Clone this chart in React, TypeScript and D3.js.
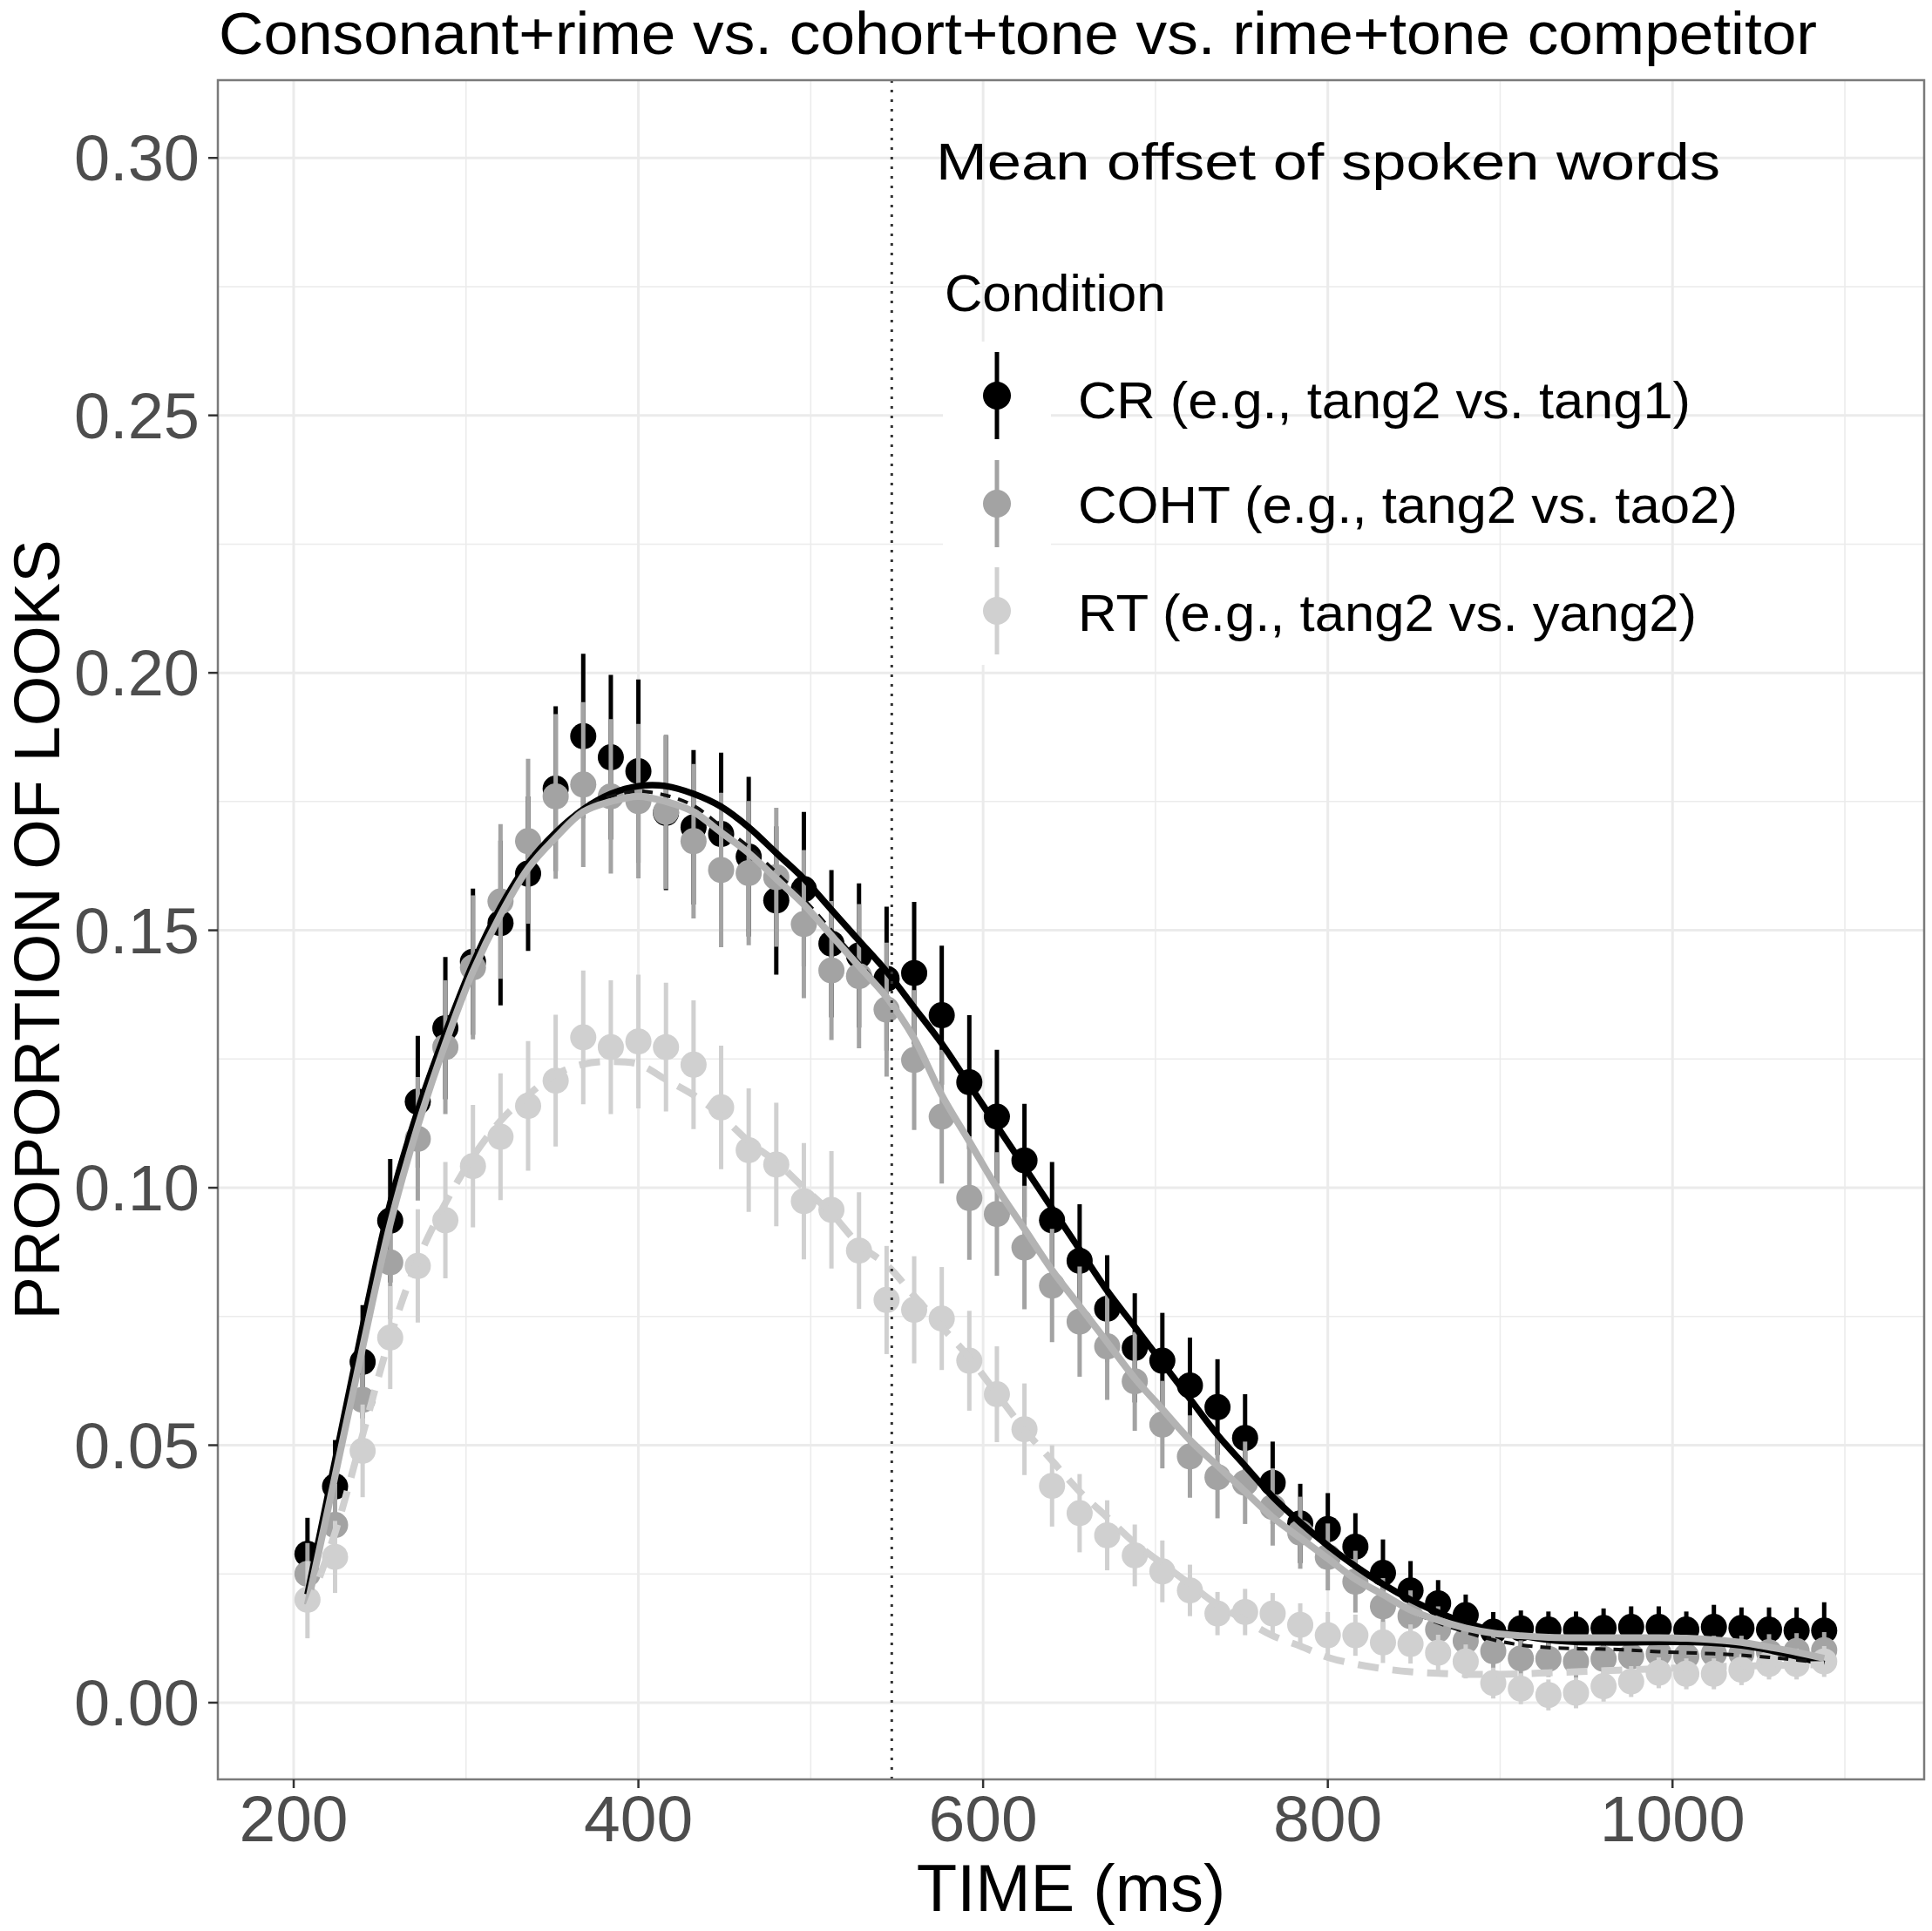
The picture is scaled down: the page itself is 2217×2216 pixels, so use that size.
import React from 'react';
import * as d3 from 'd3';

const TIME = [208,224,240,256,272,288,304,320,336,352,368,384,400,416,432,448,464,480,496,512,528,544,560,576,592,608,624,640,656,672,688,704,720,736,752,768,784,800,816,832,848,864,880,896,912,928,944,960,976,992,1008,1024,1040,1056,1072,1088];

const CR_MEAN = [0.0289,0.0420,0.0662,0.0936,0.1167,0.1310,0.1439,0.1514,0.1610,0.1775,0.1877,0.1836,0.1809,0.1728,0.1700,0.1687,0.1643,0.1558,0.1580,0.1474,0.1451,0.1406,0.1417,0.1335,0.1205,0.1138,0.1053,0.0937,0.0858,0.0765,0.0689,0.0664,0.0616,0.0574,0.0514,0.0427,0.0348,0.0337,0.0303,0.0252,0.0218,0.0193,0.0170,0.0138,0.0144,0.0142,0.0142,0.0145,0.0147,0.0147,0.0142,0.0147,0.0145,0.0142,0.0140,0.0140];
const CR_SE = [0.0070,0.0090,0.0110,0.0120,0.0128,0.0138,0.0142,0.0160,0.0150,0.0160,0.0160,0.0160,0.0178,0.0150,0.0150,0.0158,0.0155,0.0144,0.0150,0.0143,0.0140,0.0140,0.0138,0.0135,0.0130,0.0130,0.0110,0.0113,0.0110,0.0104,0.0106,0.0093,0.0093,0.0093,0.0085,0.0080,0.0077,0.0070,0.0065,0.0065,0.0057,0.0045,0.0040,0.0038,0.0035,0.0035,0.0035,0.0038,0.0040,0.0040,0.0035,0.0043,0.0040,0.0043,0.0045,0.0055];

const COHT_MEAN = [0.0250,0.0345,0.0588,0.0855,0.1095,0.1273,0.1428,0.1556,0.1673,0.1760,0.1783,0.1760,0.1751,0.1730,0.1673,0.1617,0.1611,0.1603,0.1512,0.1422,0.1411,0.1346,0.1248,0.1138,0.0980,0.0949,0.0884,0.0810,0.0740,0.0692,0.0624,0.0540,0.0478,0.0438,0.0427,0.0380,0.0330,0.0283,0.0235,0.0187,0.0168,0.0142,0.0120,0.0100,0.0086,0.0085,0.0080,0.0085,0.0090,0.0095,0.0090,0.0095,0.0095,0.0098,0.0100,0.0102];
const COHT_SE = [0.0060,0.0080,0.0100,0.0110,0.0120,0.0130,0.0140,0.0150,0.0160,0.0160,0.0160,0.0150,0.0150,0.0150,0.0150,0.0150,0.0140,0.0135,0.0144,0.0135,0.0140,0.0130,0.0136,0.0130,0.0120,0.0120,0.0120,0.0110,0.0107,0.0104,0.0096,0.0085,0.0080,0.0080,0.0080,0.0075,0.0070,0.0065,0.0060,0.0055,0.0050,0.0045,0.0040,0.0035,0.0035,0.0035,0.0035,0.0035,0.0035,0.0035,0.0035,0.0035,0.0035,0.0035,0.0035,0.0035];

const RT_MEAN = [0.0200,0.0283,0.0489,0.0709,0.0848,0.0937,0.1042,0.1099,0.1159,0.1208,0.1292,0.1273,0.1284,0.1273,0.1239,0.1156,0.1073,0.1045,0.0974,0.0957,0.0878,0.0782,0.0763,0.0746,0.0664,0.0599,0.0531,0.0421,0.0368,0.0325,0.0286,0.0255,0.0218,0.0173,0.0176,0.0173,0.0151,0.0131,0.0131,0.0117,0.0114,0.0097,0.0080,0.0038,0.0027,0.0015,0.0019,0.0032,0.0041,0.0058,0.0056,0.0056,0.0064,0.0075,0.0075,0.0080];
const RT_SE = [0.0075,0.0070,0.0090,0.0100,0.0110,0.0113,0.0119,0.0123,0.0126,0.0128,0.0130,0.0130,0.0130,0.0125,0.0125,0.0120,0.0120,0.0120,0.0113,0.0114,0.0113,0.0105,0.0104,0.0100,0.0097,0.0093,0.0089,0.0079,0.0076,0.0068,0.0060,0.0060,0.0050,0.0042,0.0045,0.0040,0.0042,0.0045,0.0040,0.0040,0.0038,0.0035,0.0033,0.0030,0.0030,0.0030,0.0030,0.0030,0.0030,0.0030,0.0030,0.0030,0.0030,0.0030,0.0030,0.0030];

const FIT_CR = [0.0210,0.0470,0.0730,0.0970,0.1150,0.1300,0.1435,0.1545,0.1630,0.1690,0.1735,0.1765,0.1780,0.1780,0.1765,0.1740,0.1700,0.1650,0.1600,0.1540,0.1480,0.1420,0.1350,0.1280,0.1200,0.1120,0.1040,0.0960,0.0880,0.0800,0.0730,0.0660,0.0590,0.0520,0.0460,0.0400,0.0350,0.0305,0.0265,0.0230,0.0200,0.0175,0.0155,0.0140,0.0130,0.0122,0.0118,0.0117,0.0117,0.0118,0.0118,0.0116,0.0111,0.0102,0.0090,0.0075];
const FIT_COHT = [0.0190,0.0440,0.0690,0.0930,0.1120,0.1280,0.1420,0.1530,0.1620,0.1680,0.1730,0.1750,0.1760,0.1750,0.1730,0.1690,0.1650,0.1600,0.1550,0.1490,0.1430,0.1370,0.1290,0.1180,0.1090,0.1000,0.0920,0.0840,0.0770,0.0700,0.0630,0.0570,0.0510,0.0460,0.0410,0.0360,0.0320,0.0280,0.0240,0.0210,0.0180,0.0160,0.0145,0.0135,0.0130,0.0127,0.0126,0.0126,0.0126,0.0126,0.0125,0.0122,0.0117,0.0108,0.0098,0.0086];
const FIT_DASHED = [0.0195,0.0445,0.0695,0.0935,0.1125,0.1285,0.1425,0.1535,0.1625,0.1688,0.1738,0.1760,0.1770,0.1762,0.1742,0.1702,0.1662,0.1612,0.1560,0.1500,0.1438,0.1372,0.1290,0.1180,0.1090,0.1000,0.0920,0.0840,0.0770,0.0700,0.0630,0.0570,0.0510,0.0460,0.0410,0.0360,0.0320,0.0280,0.0240,0.0208,0.0178,0.0155,0.0137,0.0122,0.0112,0.0107,0.0105,0.0104,0.0102,0.0099,0.0097,0.0095,0.0092,0.0088,0.0083,0.0077];
const FIT_RT = [0.0180,0.0330,0.0520,0.0710,0.0860,0.0970,0.1060,0.1130,0.1180,0.1220,0.1240,0.1245,0.1240,0.1210,0.1180,0.1140,0.1090,0.1050,0.1000,0.0950,0.0890,0.0850,0.0790,0.0730,0.0670,0.0600,0.0530,0.0470,0.0410,0.0360,0.0310,0.0270,0.0230,0.0190,0.0160,0.0130,0.0110,0.0088,0.0075,0.0066,0.0060,0.0057,0.0055,0.0055,0.0056,0.0058,0.0060,0.0062,0.0064,0.0066,0.0068,0.0070,0.0071,0.0072,0.0073,0.0074];

const X_TICKS = [200, 400, 600, 800, 1000];
const X_MINOR = [300, 500, 700, 900, 1100];
const Y_TICKS = [0, 0.05, 0.1, 0.15, 0.2, 0.25, 0.3];
const Y_MINOR = [0.025, 0.075, 0.125, 0.175, 0.225, 0.275];
const OFFSET_MS = 547;

const TITLE = 'Consonant+rime vs. cohort+tone vs. rime+tone competitor';
const X_TITLE = 'TIME (ms)';
const Y_TITLE = 'PROPORTION OF LOOKS';
const ANNOT = 'Mean offset of spoken words';
const LEGEND_TITLE = 'Condition';
const CONDITIONS = ['CR (e.g., tang2 vs. tang1)', 'COHT (e.g., tang2 vs. tao2)', 'RT (e.g., tang2 vs. yang2)'];
const COLORS = ['#000000', '#a3a3a3', '#d0d0d0'];

const W = 2217;
const H = 2216;
const PL = 250, PR = 2208, PT = 92, PB = 2042;
const FONT = '"Liberation Sans", Arial, Helvetica, sans-serif';

export default function App() {
  const x = d3.scaleLinear().domain([156, 1146]).range([PL, PR]);
  const y = d3.scaleLinear().domain([-0.0149, 0.3151]).range([PB, PT]);

  const series = [
    { mean: CR_MEAN, se: CR_SE, color: COLORS[0] },
    { mean: COHT_MEAN, se: COHT_SE, color: COLORS[1] },
    { mean: RT_MEAN, se: RT_SE, color: COLORS[2] },
  ];

  const line = (vals: number[]) =>
    d3.line<number>().x((_, i) => x(TIME[i])).y((v) => y(v)).curve(d3.curveCatmullRom.alpha(0.5))(vals) || '';

  const legendTextLen = [703, 757, 710];
  const legendBase = [480, 600, 724];
  const legendKeyY = [454, 578, 701];

  return (
    <svg width={W} height={H} style={{ position: 'absolute', left: 0, top: 0, background: '#fff' }} fontFamily={FONT}>
      <rect x={0} y={0} width={W} height={H} fill="#ffffff" />
      <defs>
        <clipPath id="panel">
          <rect x={PL} y={PT} width={PR - PL} height={PB - PT} />
        </clipPath>
      </defs>
      {X_MINOR.map((t) => (
        <line key={'xm' + t} x1={x(t)} x2={x(t)} y1={PT} y2={PB} stroke="#ebebeb" strokeWidth={1.5} />
      ))}
      {Y_MINOR.map((v) => (
        <line key={'ym' + v} x1={PL} x2={PR} y1={y(v)} y2={y(v)} stroke="#ebebeb" strokeWidth={1.5} />
      ))}
      {X_TICKS.map((t) => (
        <line key={'xg' + t} x1={x(t)} x2={x(t)} y1={PT} y2={PB} stroke="#ebebeb" strokeWidth={3} />
      ))}
      {Y_TICKS.map((v) => (
        <line key={'yg' + v} x1={PL} x2={PR} y1={y(v)} y2={y(v)} stroke="#ebebeb" strokeWidth={3} />
      ))}

      {legendKeyY.map((ky, i) => (
        <rect key={'lk' + i} x={1082} y={ky - 62} width={124} height={124} fill="#ffffff" />
      ))}

      <g clipPath="url(#panel)">
        {series.map((s, si) => (
          <g key={'s' + si}>
            {s.mean.map((m, i) => (
              <g key={i}>
                <line x1={x(TIME[i])} x2={x(TIME[i])} y1={y(m - s.se[i])} y2={y(m + s.se[i])} stroke={s.color} strokeWidth={5} />
                <circle cx={x(TIME[i])} cy={y(m)} r={15} fill={s.color} />
              </g>
            ))}
          </g>
        ))}
        <path d={line(FIT_CR)} fill="none" stroke="#000000" strokeWidth={7.5} />
        <path d={line(FIT_DASHED)} fill="none" stroke="#111111" strokeWidth={4} strokeDasharray="12 9" />
        <path d={line(FIT_COHT)} fill="none" stroke="#b3b3b3" strokeWidth={8} />
        <path d={line(FIT_RT)} fill="none" stroke="#d0d0d0" strokeWidth={8} strokeDasharray="24 16" />
        <line x1={x(OFFSET_MS)} x2={x(OFFSET_MS)} y1={PT} y2={PB} stroke="#333333" strokeWidth={3} strokeDasharray="3 8" />
      </g>

      <rect x={PL} y={PT} width={PR - PL} height={PB - PT} fill="none" stroke="#7a7a7a" strokeWidth={2.5} />

      {X_TICKS.map((t) => (
        <g key={'xt' + t}>
          <line x1={x(t)} x2={x(t)} y1={PB} y2={PB + 10} stroke="#333333" strokeWidth={2.5} />
          <text x={x(t)} y={2113} fontSize={75} fill="#4d4d4d" textAnchor="middle">{t}</text>
        </g>
      ))}
      {Y_TICKS.map((v) => (
        <g key={'yt' + v}>
          <line x1={PL - 11} x2={PL} y1={y(v)} y2={y(v)} stroke="#333333" strokeWidth={2.5} />
          <text x={229} y={y(v) + 26} fontSize={74} fill="#4d4d4d" textAnchor="end">{v.toFixed(2)}</text>
        </g>
      ))}

      <text x={251} y={62} fontSize={68} fill="#000" textLength={1834} lengthAdjust="spacingAndGlyphs">{TITLE}</text>
      <text x={(PL + PR) / 2} y={2193} fontSize={76} fill="#000" textAnchor="middle">{X_TITLE}</text>
      <text transform={`translate(68, ${(PT + PB) / 2}) rotate(-90)`} fontSize={74} fill="#000" textAnchor="middle">{Y_TITLE}</text>

      <text x={1074} y={206} fontSize={60} fill="#000" textLength={900} lengthAdjust="spacingAndGlyphs">{ANNOT}</text>
      <text x={1084} y={357} fontSize={60} fill="#000">{LEGEND_TITLE}</text>
      {CONDITIONS.map((c, i) => (
        <g key={'lg' + i}>
          <line x1={1144} x2={1144} y1={legendKeyY[i] - 50} y2={legendKeyY[i] + 50} stroke={COLORS[i]} strokeWidth={5} />
          <circle cx={1144} cy={legendKeyY[i]} r={16} fill={COLORS[i]} />
          <text x={1237} y={legendBase[i]} fontSize={60} fill="#000" textLength={legendTextLen[i]} lengthAdjust="spacingAndGlyphs">{c}</text>
        </g>
      ))}
    </svg>
  );
}
